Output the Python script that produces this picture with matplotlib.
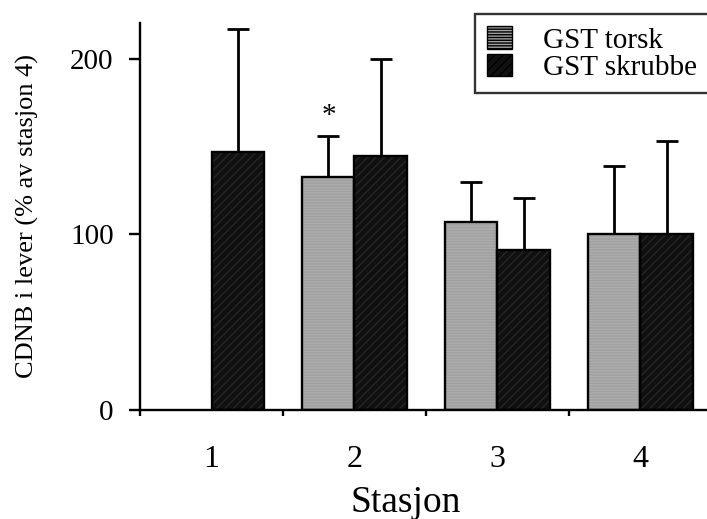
import numpy as np
import matplotlib
matplotlib.use('Agg')
import matplotlib.pyplot as plt

# data
stasjoner = ['1', '2', '3', '4']
torsk = [np.nan, 133, 107, 100]
torsk_sd = [np.nan, 23, 23, 39]
skrubbe = [147, 145, 91, 100]
skrubbe_sd = [70, 55, 30, 53]

plt.rcParams['font.family'] = ['Liberation Serif', 'DejaVu Serif']

fig = plt.figure(figsize=(7.07, 5.19), dpi=100)
ax = fig.add_axes([140 / 707, 109 / 519, 572 / 707, 387 / 519])

x = np.arange(1, len(stasjoner) + 1)
bw = 0.364

# torsk: grey with faint horizontal streaks
ax.bar(x - bw / 2, torsk, bw, color='#a0a0a0', hatch='------',
       edgecolor='#adadad', linewidth=0, label='GST torsk', zorder=2)
ax.bar(x - bw / 2, torsk, bw, fill=False, edgecolor='black', linewidth=1.7, zorder=3)
# skrubbe: near black with faint diagonal texture
ax.bar(x + bw / 2, skrubbe, bw, color='#101010', hatch='////',
       edgecolor='#262626', linewidth=0, label='GST skrubbe', zorder=2)
ax.bar(x + bw / 2, skrubbe, bw, fill=False, edgecolor='black', linewidth=1.7, zorder=3)

zeros = np.zeros(len(x))
ax.errorbar(x - bw / 2, torsk, yerr=[zeros, torsk_sd], fmt='none', ecolor='black',
            elinewidth=2.0, capsize=8, capthick=2.0, zorder=1)
ax.errorbar(x + bw / 2, skrubbe, yerr=[zeros, skrubbe_sd], fmt='none', ecolor='black',
            elinewidth=2.0, capsize=8, capthick=2.0, zorder=1)

# significance mark
ax.text(2 - bw / 2, torsk[1] + torsk_sd[1] + 4, '*', ha='center', va='bottom', fontsize=21)

ax.set_xlim(0.5, 4.5)
ax.set_ylim(0, 220.5)
ax.set_yticks([0, 100, 200])
ax.set_xticks(x)
ax.set_xticklabels(stasjoner)
ax.set_xticks(np.arange(0.5, 4.0, 1.0), minor=True)

for s in ['top', 'right']:
    ax.spines[s].set_visible(False)
for s in ['left', 'bottom']:
    ax.spines[s].set_linewidth(1.7)

ax.tick_params(axis='y', direction='out', length=8, width=1.7, labelsize=21, pad=11)
ax.tick_params(axis='x', which='major', length=0, labelsize=23, pad=25)
ax.tick_params(axis='x', which='minor', direction='out', length=4, width=1.7)

ax.set_xlabel('Stasjon', fontsize=27)
ax.xaxis.set_label_coords(0.465, -0.195)
ax.set_ylabel('CDNB i lever (% av stasjon 4)', fontsize=19)
ax.yaxis.set_label_coords(-0.177, 0.5)

leg = ax.legend(loc='upper left', bbox_to_anchor=(475 / 707, 1 - 14 / 519),
                bbox_transform=fig.transFigure, fontsize=21, frameon=True,
                fancybox=False, edgecolor='black', handlelength=0.85,
                handleheight=0.8, handletextpad=1.05, labelspacing=0.0,
                borderpad=0.42, borderaxespad=0)
leg.get_frame().set_linewidth(1.7)
for h in leg.legend_handles:
    h.set_edgecolor('black')
    h.set_linewidth(1.0)

fig.savefig('out.png', dpi=100)
